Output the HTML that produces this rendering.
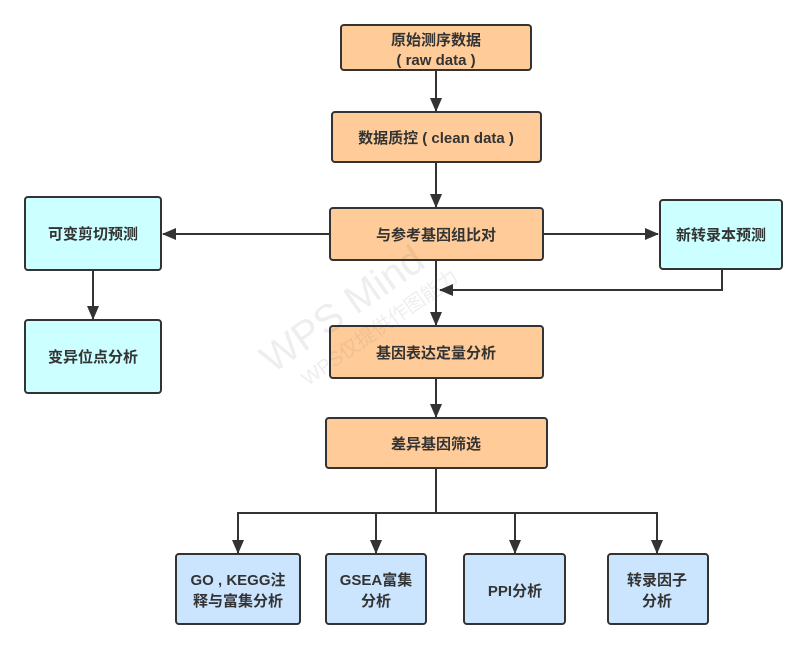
<!DOCTYPE html>
<html><head><meta charset="utf-8"><style>
body{margin:0;background:#fff;width:808px;height:649px;overflow:hidden}
svg text{font-family:"Liberation Sans","Noto Sans CJK SC",sans-serif;font-weight:bold;font-size:15px;fill:#333;text-anchor:middle}
</style></head><body>
<svg width="808" height="649" viewBox="0 0 808 649">
<defs><marker id="a" markerWidth="14" markerHeight="12" refX="13" refY="6" orient="auto" markerUnits="userSpaceOnUse"><path d="M0,0 L14,6 L0,12 Z" fill="#333"/></marker></defs>
<g stroke="#333" stroke-width="2" fill="none">
<line x1="436" y1="70" x2="436" y2="111" marker-end="url(#a)"/>
<line x1="436" y1="162" x2="436" y2="207" marker-end="url(#a)"/>
<line x1="330" y1="234" x2="163" y2="234" marker-end="url(#a)"/>
<line x1="543" y1="234" x2="658" y2="234" marker-end="url(#a)"/>
<line x1="436" y1="260" x2="436" y2="325" marker-end="url(#a)"/>
<polyline points="722,269 722,290 440,290" marker-end="url(#a)"/>
<line x1="93" y1="270" x2="93" y2="319" marker-end="url(#a)"/>
<line x1="436" y1="378" x2="436" y2="417" marker-end="url(#a)"/>
<polyline points="436,468 436,513"/>
<line x1="237" y1="513" x2="657" y2="513"/>
<line x1="238" y1="512" x2="238" y2="553" marker-end="url(#a)"/>
<line x1="376" y1="512" x2="376" y2="553" marker-end="url(#a)"/>
<line x1="515" y1="512" x2="515" y2="553" marker-end="url(#a)"/>
<line x1="657" y1="512" x2="657" y2="553" marker-end="url(#a)"/>
</g>
<g stroke="#333" stroke-width="2">
<rect x="341" y="25" width="190" height="45" rx="3" fill="#ffcc99"/>
<rect x="332" y="112" width="209" height="50" rx="3" fill="#ffcc99"/>
<rect x="330" y="208" width="213" height="52" rx="3" fill="#ffcc99"/>
<rect x="330" y="326" width="213" height="52" rx="3" fill="#ffcc99"/>
<rect x="326" y="418" width="221" height="50" rx="3" fill="#ffcc99"/>
<rect x="25" y="197" width="136" height="73" rx="3" fill="#ccffff"/>
<rect x="25" y="320" width="136" height="73" rx="3" fill="#ccffff"/>
<rect x="660" y="200" width="122" height="69" rx="3" fill="#ccffff"/>
<rect x="176" y="554" width="124" height="70" rx="3" fill="#cce5ff"/>
<rect x="326" y="554" width="100" height="70" rx="3" fill="#cce5ff"/>
<rect x="464" y="554" width="101" height="70" rx="3" fill="#cce5ff"/>
<rect x="608" y="554" width="100" height="70" rx="3" fill="#cce5ff"/>
</g>
<text x="436" y="45">原始测序数据</text>
<text x="436" y="65">( raw data )</text>
<text x="436" y="143">数据质控 ( clean data )</text>
<text x="436" y="240">与参考基因组比对</text>
<text x="436" y="358">基因表达定量分析</text>
<text x="436" y="449">差异基因筛选</text>
<text x="93" y="239">可变剪切预测</text>
<text x="93" y="362">变异位点分析</text>
<text x="721" y="240">新转录本预测</text>
<text x="238" y="585">GO , KEGG注</text>
<text x="238" y="606">释与富集分析</text>
<text x="376" y="585">GSEA富集</text>
<text x="376" y="606">分析</text>
<text x="515" y="596">PPI分析</text>
<text x="657" y="585">转录因子</text>
<text x="657" y="606">分析</text>
<g transform="rotate(-35 350 320)" opacity="0.08">
<text x="350" y="320" style="font-size:40px;font-weight:normal">WPS Mind</text>
<text x="370" y="350" style="font-size:20px;font-weight:normal">WPS仅提供作图能力</text>
</g>
</svg>
</body></html>
